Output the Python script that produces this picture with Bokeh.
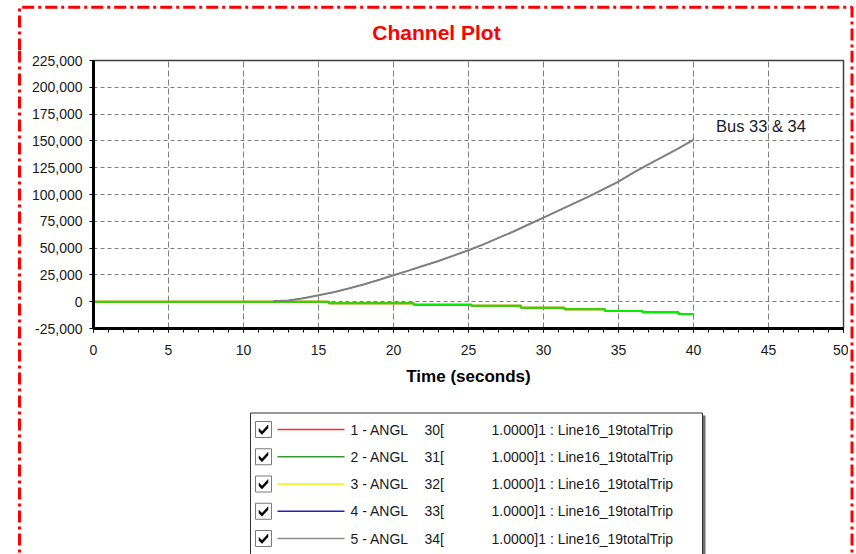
from bokeh.plotting import figure
from bokeh.layouts import column, row
from bokeh.models import SingleIntervalTicker, NumeralTickFormatter, Range1d, Label
from bokeh.core.properties import value
from bokeh.embed import file_html
from bokeh.resources import INLINE

# ---------------- data ----------------
bus34_time = [12, 13, 14, 15, 16, 17, 18, 19, 20, 21, 22, 23, 24, 25, 26, 27, 28, 29, 30,
              31, 32, 33, 34, 35, 36, 37, 38, 39, 40]
bus34_angle = [500, 1200, 3300, 6000, 8800, 12300, 16000, 20300, 24700, 29000, 33500, 38000,
               43000, 48000, 53500, 59500, 65500, 72000, 78500, 85000, 91500, 98000, 105000,
               112000, 120500, 128000, 135500, 143000, 151000]
bus33_angle = bus34_angle  # bus 33 overlaps bus 34

bus31_time = [0, 15.7, 21.35, 25.2, 28.5, 31.4, 34.1, 36.6, 39.0, 40]
bus31_angle = [0, -1500, -2800, -3700, -5600, -7100, -8700, -9900, -11500, -11500]
bus30_angle = bus31_angle
bus32_angle = bus31_angle

legend_channels = ["1 - ANGL", "2 - ANGL", "3 - ANGL", "4 - ANGL", "5 - ANGL"]
legend_buses = ["30[", "31[", "32[", "33[", "34["]
legend_desc = ["1.0000]1 : Line16_19totalTrip"] * 5
legend_colors = ["#ff2a2a", "#339933", "#f2f200", "#1c1cd0", "#8c8c8c"]

x_ticks_interval = 5
y_ticks_interval = 25000

FONT = "Liberation Sans"
RED = "#ff0000"
DASH = "12 4 3 4"


def deco_fig(w, h, xr, yr, ml=0, mr=0):
    f = figure(width=w, height=h, x_range=Range1d(*xr), y_range=Range1d(*yr),
               x_axis_type=None, y_axis_type=None, min_border=0,
               min_border_left=ml, min_border_right=mr, min_border_top=0, min_border_bottom=0,
               output_backend="svg", toolbar_location=None,
               background_fill_color="white", border_fill_color="white")
    f.outline_line_color = None
    return f


# ---------------- top strip: border + title (page pixels) ----------------
top = deco_fig(856, 50, (0, 856), (50, 0))
top.line([19, 19, 851.5, 851.5], [50, 6.7, 6.7, 50], line_color=RED, line_width=3,
         line_dash=DASH)
top.text(x=[436], y=[32], text=["Channel Plot"], text_font=value(FONT),
         text_font_size=value("21px"), text_font_style="bold", text_color=RED,
         text_align="center", text_baseline="middle")

# ---------------- side strips ----------------
left = deco_fig(22, 504, (0, 22), (554, 50))
left.line([19, 19], [50, 570], line_color=RED, line_width=3, line_dash=DASH)
right = deco_fig(8, 504, (848, 856), (554, 50))
right.line([851.5, 851.5], [50, 570], line_color=RED, line_width=3, line_dash=DASH)

# ---------------- main chart ----------------
p = figure(width=826, height=350, output_backend="svg", toolbar_location=None,
           x_range=Range1d(0, 50), y_range=Range1d(-25000, 225000),
           min_border_left=71, min_border_right=5, min_border_top=10, min_border_bottom=72,
           background_fill_color="white", border_fill_color="white")
p.outline_line_color = "#404040"
p.outline_line_width = 1.5

p.xaxis.ticker = SingleIntervalTicker(interval=x_ticks_interval, num_minor_ticks=5)
p.yaxis.ticker = SingleIntervalTicker(interval=y_ticks_interval, num_minor_ticks=0)
p.yaxis.formatter = NumeralTickFormatter(format="0,0")
for ax in (p.xaxis[0], p.yaxis[0]):
    ax.axis_line_width = 3
    ax.axis_line_color = "black"
    ax.major_tick_line_color = "black"
    ax.major_tick_in = 0
    ax.major_tick_out = 4
    ax.minor_tick_in = 0
    ax.minor_tick_out = 4
    ax.minor_tick_line_color = "black"
    ax.major_label_text_font = FONT
    ax.major_label_text_font_size = "14px"
    ax.major_label_text_color = "#1a1a1a"
p.yaxis.minor_tick_line_color = None
p.xaxis.major_label_standoff = 12
p.yaxis.major_label_standoff = 7
p.xaxis.axis_label = "Time (seconds)"
p.xaxis.axis_label_text_font = FONT
p.xaxis.axis_label_text_font_size = "17px"
p.xaxis.axis_label_text_font_style = "bold"
p.xaxis.axis_label_text_color = "black"
p.xaxis.axis_label_standoff = 9

p.xgrid.grid_line_color = "#808080"
p.xgrid.grid_line_dash = "6 3"
p.ygrid.grid_line_color = "#808080"
p.ygrid.grid_line_dash = "4 3"

p.step(bus31_time, bus32_angle, mode="after", line_color="#f2f200", line_width=2)
p.step(bus31_time, bus30_angle, mode="after", line_color="#ff2a2a", line_width=2)
p.step(bus31_time, bus31_angle, mode="after", line_color="#00f000", line_width=2)
p.line(bus34_time, bus33_angle, line_color="#1c1cd0", line_width=1)
p.line(bus34_time, bus34_angle, line_color="#808080", line_width=2)

p.add_layout(Label(x=41.5, y=164000, text="Bus 33 & 34", text_font=FONT,
                   text_font_size="16.5px", text_color="#1a1a2e", text_baseline="middle"))

# ---------------- legend panel (page pixels; frame spans page x 93..843) ----------------
leg = deco_fig(826, 154, (93, 843), (554, 400), ml=71, mr=5)
leg.quad(left=[701], right=[705], top=[415], bottom=[570], fill_color="#707070",
         line_color=None)
leg.quad(left=[250], right=[702], top=[412.5], bottom=[570], fill_color="white",
         line_color="#303030", line_width=1)

row_y = [429 + 27.25 * i for i in range(len(legend_channels))]
leg.quad(left=[255] * 5, right=[271] * 5, top=[y - 8 for y in row_y],
         bottom=[y + 8 for y in row_y], fill_color="white", line_color="#7a7a7a",
         line_width=1)
check = [(3.5, 7), (6.5, 10), (12.5, 3.5), (12.5, 6.5), (6.5, 13), (3.5, 10)]
leg.patches(xs=[[255 + a for a, b in check] for y in row_y],
            ys=[[y - 8 + b for a, b in check] for y in row_y],
            fill_color="black", line_color="black", line_width=0.5)
leg.segment(x0=[277] * 5, y0=row_y, x1=[344] * 5, y1=row_y, line_color=legend_colors,
            line_width=1.5)
for X, texts in ((350, legend_channels), (424, legend_buses), (491, legend_desc)):
    leg.text(x=[X] * 5, y=row_y, text=texts, text_font=value(FONT),
             text_font_size=value("14px"), text_color="#1a1a1a", text_baseline="middle")

layout = column(top, row(left, column(p, leg), right))

open("out.html", "w").write(file_html(layout, INLINE))
